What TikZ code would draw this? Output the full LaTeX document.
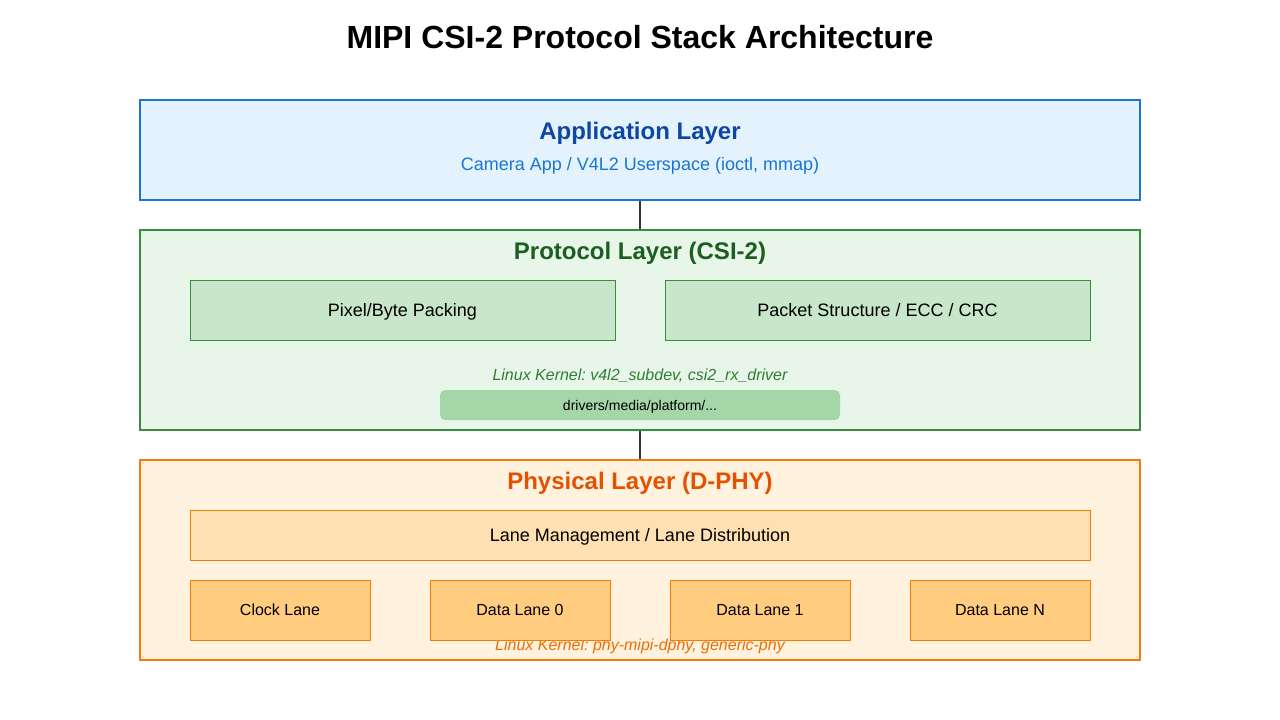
\documentclass[tikz,border=0pt]{standalone}
\usepackage{fontspec}
\setmainfont{Liberation Sans}
\frenchspacing
\definecolor{appfill}{HTML}{E3F2FD}
\definecolor{appline}{HTML}{1976D2}
\definecolor{apptitle}{HTML}{0D47A1}
\definecolor{protofill}{HTML}{E8F5E9}
\definecolor{protoline}{HTML}{388E3C}
\definecolor{prototitle}{HTML}{1B5E20}
\definecolor{protoinner}{HTML}{C8E6C9}
\definecolor{protonote}{HTML}{2E7D32}
\definecolor{protopath}{HTML}{A5D6A7}
\definecolor{phyfill}{HTML}{FFF3E0}
\definecolor{phyline}{HTML}{F57C00}
\definecolor{phytitle}{HTML}{E65100}
\definecolor{phymgmt}{HTML}{FFE0B2}
\definecolor{phylane}{HTML}{FFCC80}
\definecolor{phynote}{HTML}{EF6C00}
\definecolor{linkcol}{HTML}{333333}
\tikzset{
  layerbox/.style={draw, line width=2pt, inner sep=0pt, minimum width=1000pt, minimum height=#1},
  innerbox/.style={draw, line width=1pt, inner sep=0pt, text height=12.9pt, text depth=0pt, font=\fontsize{18}{22}\selectfont},
  lanebox/.style={draw=phyline, fill=phylane, line width=1pt, inner sep=0pt, text height=11.5pt, text depth=0pt, minimum width=180pt, minimum height=60pt, font=\fontsize{16}{19}\selectfont},
  layertitle/.style={font=\fontsize{24}{28}\selectfont\bfseries, inner sep=0pt, anchor=base},
  notetext/.style={font=\fontsize{16}{19}\selectfont\itshape, inner sep=0pt, anchor=base},
  link/.style={draw=linkcol, line width=2pt},
}
\begin{document}
\begin{tikzpicture}[x=1pt,y=-1pt]
\useasboundingbox (0,0) rectangle (1280,720);
\node[font=\fontsize{32}{38}\selectfont\bfseries, inner sep=0pt, anchor=base] (title) at (640,48) {MIPI CSI-2 Protocol Stack Architecture};

% Application layer
\node[layerbox=100pt, draw=appline, fill=appfill] (app) at (640,150) {};
\node[layertitle, text=apptitle] (apptxt) at (640,139.5) {Application Layer};
\node[font=\fontsize{18}{22}\selectfont, text=appline, inner sep=0pt, anchor=base] (appsub) at (640,170) {Camera App / V4L2 Userspace (ioctl, mmap)};

% Protocol layer
\node[layerbox=200pt, draw=protoline, fill=protofill] (proto) at (640,330) {};
\node[layertitle, text=prototitle] (prototxt) at (640,259.5) {Protocol Layer (CSI-2)};
\node[innerbox, draw=protoline, fill=protoinner, minimum width=425pt, minimum height=60pt] (pix) at (402.5,310) {Pixel/Byte Packing};
\node[innerbox, draw=protoline, fill=protoinner, minimum width=425pt, minimum height=60pt] (pkt) at (877.5,310) {Packet Structure / ECC / CRC};
\node[notetext, text=protonote] (protonote) at (640,380) {Linux Kernel: v4l2\_subdev, csi2\_rx\_driver};
\node[fill=protopath, rounded corners=5pt, minimum width=400pt, minimum height=30pt, inner sep=0pt, text height=10pt, text depth=0pt, font=\fontsize{14}{17}\selectfont] (drv) at (640,405) {drivers/media/platform/...};

% Physical layer
\node[layerbox=200pt, draw=phyline, fill=phyfill] (phy) at (640,560) {};
\node[layertitle, text=phytitle] (phytxt) at (640,489.5) {Physical Layer (D-PHY)};
\node[innerbox, draw=phyline, fill=phymgmt, minimum width=900pt, minimum height=50pt] (mgmt) at (640,535) {Lane Management / Lane Distribution};
\node[notetext, text=phynote] (phynote) at (640,650) {Linux Kernel: phy-mipi-dphy, generic-phy};
\node[lanebox] (clk) at (280,610) {Clock Lane};
\node[lanebox] (d0) at (520,610) {Data Lane 0};
\node[lanebox] (d1) at (760,610) {Data Lane 1};
\node[lanebox] (dn) at (1000,610) {Data Lane N};

% Connectors
\draw[link] (app.south) -- (proto.north);
\draw[link] (proto.south) -- (phy.north);
\end{tikzpicture}
\end{document}
